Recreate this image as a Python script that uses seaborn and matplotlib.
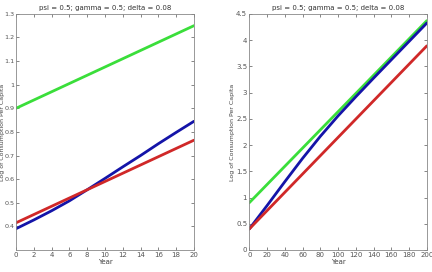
import numpy as np
import pandas as pd
import matplotlib
matplotlib.use('Agg')
import matplotlib.pyplot as plt
import seaborn as sns

# short run, years 0..20
years_short = [0, 2, 4, 6, 8, 10, 12, 14, 16, 18, 20]
green_short = [0.90, 0.935, 0.97, 1.005, 1.04, 1.075, 1.11, 1.145, 1.18, 1.215, 1.25]
blue_short = [0.39, 0.427, 0.466, 0.508, 0.555, 0.603, 0.652, 0.700, 0.750, 0.798, 0.845]
red_short = [0.415, 0.45, 0.485, 0.52, 0.555, 0.59, 0.625, 0.66, 0.695, 0.73, 0.765]

# long run, years 0..200
years_long = [0, 20, 40, 60, 80, 100, 120, 140, 160, 180, 200]
green_long = [0.90, 1.247, 1.594, 1.941, 2.288, 2.635, 2.982, 3.329, 3.676, 4.023, 4.37]
blue_long = [0.40, 0.845, 1.30, 1.745, 2.165, 2.555, 2.92, 3.275, 3.625, 3.975, 4.325]
red_long = [0.40, 0.749, 1.098, 1.447, 1.796, 2.145, 2.494, 2.843, 3.192, 3.541, 3.89]

title = 'psi = 0.5; gamma = 0.5; delta = 0.08'
colors = {'green': '#3ade3a', 'blue': '#1414a8', 'red': '#d02828'}

sns.set_theme(style='white')
plt.rcParams['font.family'] = ['DejaVu Sans']

fig = plt.figure(figsize=(4.32, 2.72), dpi=100)
ax1 = fig.add_axes([0.037, 0.081, 0.412, 0.868])
ax2 = fig.add_axes([0.577, 0.081, 0.411, 0.868])

def draw(ax, x, g, b, r):
    df = pd.DataFrame({'x': x, 'green': g, 'blue': b, 'red': r})
    for name in ['green', 'blue', 'red']:
        sns.lineplot(data=df, x='x', y=name, ax=ax, color=colors[name], linewidth=2.0)

draw(ax1, years_short, green_short, blue_short, red_short)
draw(ax2, years_long, green_long, blue_long, red_long)

ax1.set_xlim(0, 20)
ax1.set_ylim(0.3, 1.3)
ax1.set_xticks(np.arange(0, 21, 2))
ax1.set_yticks(np.arange(0.4, 1.31, 0.1))
ax1.set_yticklabels(['0.4', '0.5', '0.6', '0.7', '0.8', '0.9', '1', '1.1', '1.2', '1.3'])

ax2.set_xlim(0, 200)
ax2.set_ylim(0, 4.5)
ax2.set_xticks(np.arange(0, 201, 20))
ax2.set_yticks(np.arange(0, 4.51, 0.5))
ax2.set_yticklabels(['0', '0.5', '1', '1.5', '2', '2.5', '3', '3.5', '4', '4.5'])

for ax in [ax1, ax2]:
    ax.set_title(title, fontsize=5, color='#333333', pad=3)
    ax.set_xlabel('Year', fontsize=5, color='#444444', labelpad=1)
    ax.set_ylabel('Log of Consumption Per Capita', fontsize=4.5, color='#444444', labelpad=1)
    ax.tick_params(direction='in', length=2.5, width=0.5, labelsize=5, colors='#555555',
                   top=True, right=True, bottom=True, left=True, pad=1.5)
    for s in ax.spines.values():
        s.set_color('#888888')
        s.set_linewidth(0.6)

ax1.tick_params(axis='y', labelsize=4.6, pad=1)
ax1.yaxis.set_label_coords(-0.062, 0.5)

fig.savefig('out.png', dpi=100)
